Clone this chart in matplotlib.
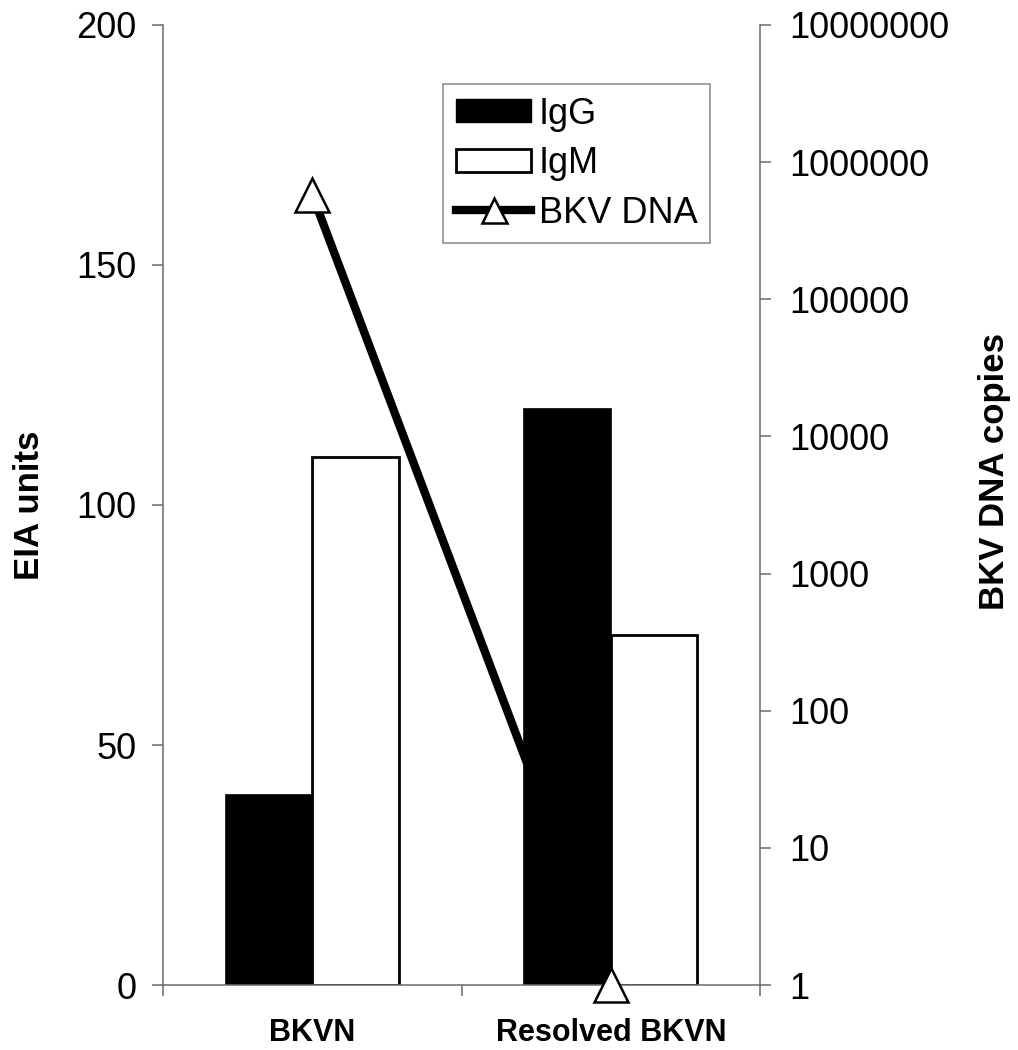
import matplotlib
matplotlib.use('Agg')
import matplotlib.pyplot as plt
import numpy as np
from matplotlib.lines import Line2D
from matplotlib.patches import Patch

plt.rcParams['font.family'] = ['Liberation Sans', 'DejaVu Sans']

categories = ['BKVN', 'Resolved BKVN']
igg = [39.5, 120]
igm = [110, 73]
bkv_dna = [580000, 1]

left_ticks = [0, 50, 100, 150, 200]
right_ticks = [1, 10, 100, 1000, 10000, 100000, 1000000, 10000000]
right_labels = [str(t) for t in right_ticks]

spine_col = '#6a6a6a'
x = np.arange(len(categories))
w = 0.29

fig = plt.figure(figsize=(10.18, 10.5), dpi=100)
ax = fig.add_axes([0.1601, 0.0619, 0.5865, 0.9143])
ax2 = ax.twinx()
ax.set_zorder(ax2.get_zorder() + 1)
ax.patch.set_visible(False)

# bars on the left (linear) axis
ax.bar(x - w / 2, igg, w, color='black', edgecolor='black', linewidth=1.2, zorder=2)
ax.bar(x + w / 2, igm, w, color='white', edgecolor='black', linewidth=2, zorder=2)

# DNA line on the log axis, drawn behind the bars
ax2.set_yscale('log')
ax2.plot(x, bkv_dna, color='black', lw=6, solid_capstyle='butt', zorder=1)
ax.plot(x, bkv_dna, transform=ax2.transData, linestyle='none', marker='^',
        markersize=25, mfc='white', mec='black', mew=1.8, zorder=4, clip_on=False)

ax.set_xlim(-0.5, 1.5)
ax.set_ylim(0, 200)
ax2.set_ylim(1, 10000000)

ax.set_yticks(left_ticks)
ax.set_yticklabels([str(t) for t in left_ticks])
ax2.set_yticks(right_ticks)
ax2.set_yticklabels(right_labels)
ax2.yaxis.set_minor_locator(matplotlib.ticker.NullLocator())

ax.set_xticks([-0.5, 0.5, 1.5])
ax.set_xticklabels(['', '', ''])
ax.set_xticks(x, minor=True)
ax.set_xticklabels(categories, minor=True, fontsize=22, fontweight='bold')
ax.tick_params(axis='x', which='minor', length=0, pad=24)
ax.tick_params(axis='x', which='major', length=8, width=1.1, color=spine_col, direction='out')
ax.tick_params(axis='y', length=8, width=1.1, color=spine_col, labelsize=26, pad=11)
ax2.tick_params(axis='y', length=8, width=1.1, color=spine_col, labelsize=26, pad=13)

for a in (ax, ax2):
    a.spines['top'].set_visible(False)
    for s in a.spines.values():
        s.set_color(spine_col)
        s.set_linewidth(1.1)
ax.spines['right'].set_visible(False)
ax2.spines['left'].set_visible(False)
ax2.spines['bottom'].set_visible(False)

ax.set_ylabel('EIA units', fontsize=25, fontweight='bold', labelpad=22)
ax2.set_ylabel('BKV DNA copies', fontsize=25, fontweight='bold')
ax2.yaxis.set_label_coords(1.365, 0.535)

handles = [
    Patch(facecolor='black', edgecolor='black'),
    Patch(facecolor='white', edgecolor='black', linewidth=2),
    Line2D([], [], color='black', lw=6, marker='^', markersize=18,
           mfc='white', mec='black', mew=1.8),
]
leg = ax.legend(handles, ['IgG', 'IgM', 'BKV DNA'], loc='upper left',
                bbox_to_anchor=(443 / 1018, 1 - 84 / 1050), bbox_transform=fig.transFigure,
                fontsize=26, frameon=True, fancybox=False, handlelength=2.1,
                handleheight=0.6, handletextpad=0.2, labelspacing=0.4,
                borderpad=0.35, borderaxespad=0)
leg.get_frame().set_edgecolor(spine_col)
leg.get_frame().set_linewidth(1.1)

fig.savefig('out.png', dpi=100)
